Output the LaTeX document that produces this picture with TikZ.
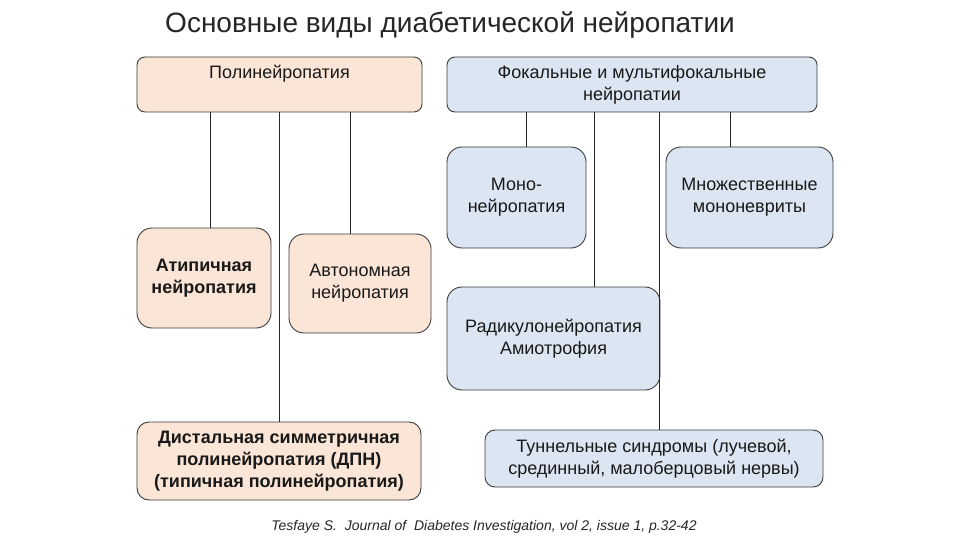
\documentclass[tikz,border=0pt]{standalone}
\usepackage{fontspec}
\setmainfont{Liberation Sans}
\usetikzlibrary{positioning,calc}
\definecolor{peach}{HTML}{FBE5D6}
\definecolor{paleblue}{HTML}{DCE6F2}
\definecolor{edge}{HTML}{3A3A3A}

\tikzset{
  box/.style={draw=edge,line width=0.9pt,align=center,inner sep=0pt,
    font=\fontsize{18}{22}\selectfont,text=black!90},
  polybox/.style={box,fill=peach},
  focbox/.style={box,fill=paleblue},
  link/.style={line width=0.9pt,black!85}
}

\begin{document}
\begin{tikzpicture}[x=1pt,y=-1pt]
  \useasboundingbox[fill=white] (0,0) rectangle (960,540);

  % Title
  \node[font=\fontsize{28}{32}\selectfont,text=black!85] (title) at (450,25) {Основные виды диабетической нейропатии};

  % Top level
  \node[polybox,rounded corners=8pt,minimum width=285,text height=22,text depth=33,anchor=base] (poly) at (279.5,79) {Полинейропатия};
  \node[focbox,rounded corners=8pt,minimum width=370,minimum height=55] (foc) at (632,84.5) {Фокальные и мультифокальные\\нейропатии};

  % Polyneuropathy branch
  \node[polybox,rounded corners=15pt,minimum width=134,minimum height=100,font=\fontsize{18}{22}\selectfont\bfseries] (atyp) at (204,278) {Атипичная\\нейропатия};
  \node[polybox,rounded corners=15pt,minimum width=142,minimum height=99] (auto) at (360,283.5) {Автономная\\нейропатия};
  \node[polybox,rounded corners=12pt,minimum width=284,minimum height=78,font=\fontsize{18}{22}\selectfont\bfseries] (dist) at (279,461) {Дистальная симметричная\\полинейропатия (ДПН)\\(типичная полинейропатия)};

  % Focal branch
  \node[focbox,rounded corners=15pt,minimum width=139,minimum height=101] (mono) at (516.5,197.5) {Моно-\\нейропатия};
  \node[focbox,rounded corners=15pt,minimum width=167,minimum height=101] (multi) at (749.5,197.5) {Множественные\\мононевриты};
  \node[focbox,rounded corners=15pt,minimum width=213,minimum height=103] (radic) at (553.5,338.5) {Радикулонейропатия\\Амиотрофия};
  \node[focbox,rounded corners=10pt,minimum width=338,minimum height=57] (tunnel) at (654,458.5) {Туннельные синдромы (лучевой,\\срединный, малоберцовый нервы)};

  % Connectors
  \draw[link] (poly.south -| 210,0) -- (atyp.north -| 210,0);
  \draw[link] (poly.south -| 279,0) -- (dist.north -| 279,0);
  \draw[link] (poly.south -| 350,0) -- (auto.north -| 350,0);
  \draw[link] (foc.south -| 526,0) -- (mono.north -| 526,0);
  \draw[link] (foc.south -| 594,0) -- (radic.north -| 594,0);
  \draw[link] (foc.south -| 659,0) -- (tunnel.north -| 659,0);
  \draw[link] (foc.south -| 730,0) -- (multi.north -| 730,0);

  % Source
  \node[font=\fontsize{14}{16}\selectfont\itshape,text=black!85] (src) at (484,527) {Tesfaye S.\ \ Journal of\ \ Diabetes Investigation, vol 2, issue 1, p.32-42};
\end{tikzpicture}
\end{document}
